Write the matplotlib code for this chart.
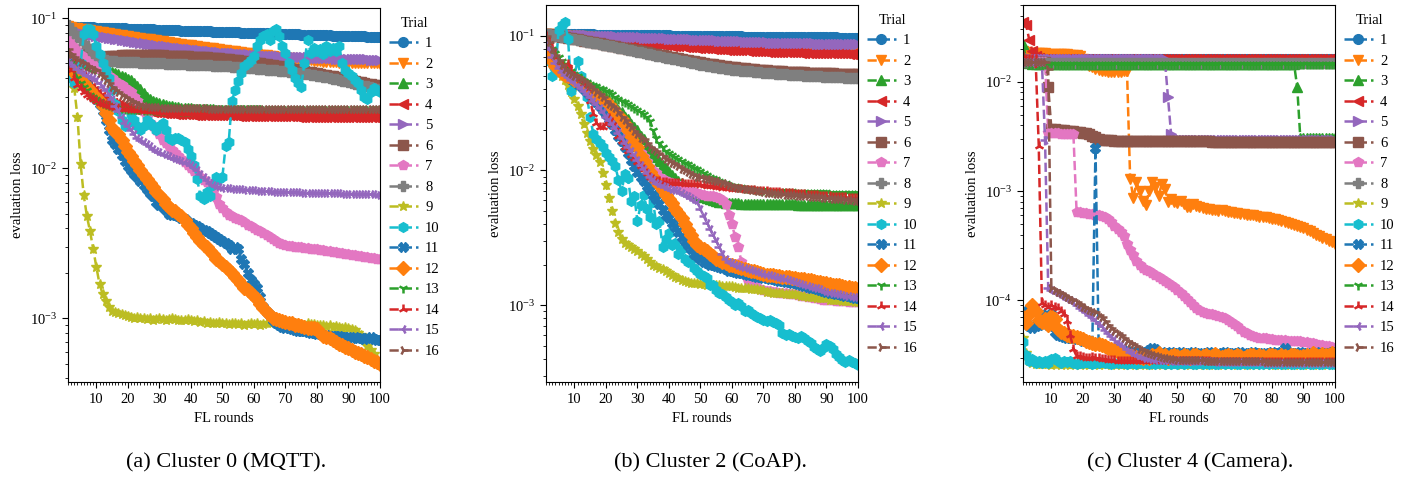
import numpy as np
import matplotlib
matplotlib.use("Agg")
import matplotlib.pyplot as plt
from matplotlib.ticker import MultipleLocator

plt.rcParams['font.family'] = ['Liberation Serif', 'DejaVu Serif']
plt.rcParams['mathtext.fontset'] = 'stix'
plt.rcParams['font.size'] = 10.5

# FL rounds and trial labels
rounds = np.arange(1, 101)
trials = [str(i) for i in range(1, 17)]

# ---------------- Cluster 0 (MQTT), values in units of 1e-4 ----------------
a_t1 = [880, 878, 877, 875, 874, 872, 871, 869, 868, 866,
        865, 863, 862, 860, 859, 857, 856, 854, 853, 851,
        850, 849, 847, 846, 844, 843, 841, 840, 839, 837,
        836, 834, 833, 832, 830, 829, 827, 826, 825, 823,
        822, 821, 819, 818, 817, 815, 814, 813, 811, 810,
        809, 807, 806, 805, 803, 802, 801, 799, 798, 797,
        796, 794, 793, 792, 791, 789, 788, 787, 786, 784,
        783, 782, 781, 779, 778, 777, 776, 775, 773, 772,
        771, 770, 769, 767, 766, 765, 764, 763, 762, 760,
        759, 758, 757, 756, 755, 754, 752, 751, 750, 749]
a_t2 = [880, 872, 865, 858, 851, 844, 838, 831, 825, 818,
        812, 806, 800, 794, 788, 782, 776, 770, 765, 759,
        753, 748, 742, 737, 731, 726, 721, 716, 711, 706,
        701, 696, 691, 686, 681, 676, 672, 667, 662, 658,
        653, 649, 645, 640, 636, 632, 628, 624, 620, 616,
        612, 608, 604, 600, 597, 593, 589, 586, 582, 579,
        575, 572, 568, 565, 562, 558, 555, 552, 549, 546,
        543, 540, 537, 534, 531, 529, 526, 523, 521, 518,
        516, 514, 512, 510, 509, 507, 506, 505, 504, 503,
        502, 502, 501, 501, 500, 500, 500, 499, 499, 498]
a_t3 = [650, 600, 570, 550, 530, 510, 500, 490, 480, 470,
        462, 456, 450, 443, 437, 430, 422, 414, 405, 396,
        385, 372, 355, 335, 315, 300, 290, 282, 276, 271,
        267, 264, 261, 259, 257, 255, 254, 253, 252, 251,
        250, 249, 249, 248, 248, 247, 247, 246, 246, 246,
        245, 245, 245, 244, 244, 244, 244, 243, 243, 243,
        243, 243, 242, 242, 242, 242, 242, 242, 241, 241,
        241, 241, 241, 241, 241, 240, 240, 240, 240, 240,
        240, 240, 240, 240, 240, 240, 239, 239, 239, 239,
        239, 239, 239, 239, 239, 239, 239, 239, 239, 239]
a_t4 = [600, 540, 490, 450, 420, 390, 365, 345, 328, 312,
        300, 290, 282, 276, 271, 266, 262, 258, 255, 252,
        250, 248, 246, 244, 242, 240, 239, 238, 237, 236,
        235, 234, 233, 232, 231, 231, 230, 230, 229, 229,
        228, 228, 228, 227, 227, 227, 226, 226, 226, 226,
        225, 225, 225, 225, 224, 224, 224, 224, 224, 223,
        223, 223, 223, 223, 223, 222, 222, 222, 222, 222,
        222, 222, 222, 221, 221, 221, 221, 221, 221, 221,
        221, 221, 221, 220, 220, 220, 220, 220, 220, 220,
        220, 220, 220, 220, 220, 220, 220, 220, 220, 220]
a_t5 = [850, 835, 820, 808, 798, 790, 783, 777, 771, 765,
        758, 752, 746, 740, 734, 728, 722, 716, 710, 704,
        699, 694, 689, 684, 679, 674, 669, 664, 660, 656,
        652, 648, 644, 640, 636, 632, 628, 625, 622, 619,
        616, 613, 610, 607, 604, 601, 598, 595, 592, 590,
        588, 586, 584, 582, 580, 578, 576, 574, 572, 570,
        568, 566, 564, 562, 560, 558, 557, 556, 555, 554,
        553, 552, 551, 550, 549, 548, 547, 546, 545, 544,
        543, 542, 541, 540, 539, 538, 537, 536, 535, 534,
        533, 533, 532, 532, 531, 531, 530, 530, 530, 530]
a_t6 = [680, 640, 610, 590, 575, 565, 558, 553, 550, 550,
        551, 553, 555, 557, 559, 561, 563, 565, 567, 568,
        569, 570, 570, 570, 570, 569, 568, 567, 566, 565,
        564, 563, 562, 561, 560, 559, 558, 557, 556, 555,
        554, 553, 551, 549, 547, 545, 543, 541, 539, 537,
        535, 532, 529, 526, 523, 520, 517, 514, 511, 508,
        505, 501, 497, 493, 489, 485, 481, 477, 473, 469,
        465, 461, 457, 453, 449, 445, 441, 437, 433, 429,
        425, 421, 417, 413, 409, 405, 401, 397, 393, 389,
        385, 381, 377, 373, 369, 365, 362, 359, 356, 353]
a_t7 = [720, 680, 640, 600, 570, 550, 530, 510, 490, 480,
        460, 450, 430, 410, 400, 380, 370, 360, 340, 330,
        320, 300, 280, 260, 240, 220, 200, 190, 180, 170,
        155, 148, 140, 133, 127, 120, 115, 110, 105, 100,
        96, 92, 88, 84, 81, 76, 70, 64, 58, 54,
        51, 49, 48, 47, 46, 45, 44, 42, 41, 40,
        39, 38, 37, 36, 35, 34, 33, 32, 31.5, 31,
        30.5, 30.3, 30.1, 30, 29.8, 29.6, 29.4, 29.2, 29, 28.8,
        28.6, 28.4, 28.2, 28, 27.8, 27.6, 27.4, 27.2, 27, 26.8,
        26.6, 26.4, 26.2, 26, 25.8, 25.6, 25.4, 25.2, 25, 24.8]
a_t8 = [900, 850, 800, 760, 720, 680, 650, 620, 590, 570,
        550, 540, 530, 520, 518, 516, 514, 512, 511, 510,
        509, 508, 507, 506, 505, 504, 503, 502, 501, 500,
        499, 498, 497, 496, 495, 494, 493, 492, 491, 490,
        489, 488, 487, 486, 485, 484, 483, 482, 481, 480,
        479, 478, 476, 474, 472, 470, 468, 466, 464, 462,
        460, 458, 456, 454, 452, 450, 448, 446, 444, 442,
        440, 437, 434, 431, 428, 425, 422, 419, 416, 413,
        410, 407, 403, 399, 395, 391, 387, 383, 379, 375,
        371, 367, 363, 359, 355, 351, 347, 343, 339, 335]
a_t9 = [520, 450, 340, 220, 107, 66, 48, 38, 29, 22,
        17, 14.5, 13, 12, 11.3, 11, 10.8, 10.7, 10.5, 10.4,
        10.3, 10.1, 10.2, 10, 10.1, 9.9, 10, 9.8, 9.9, 10,
        9.9, 9.8, 9.9, 10.1, 9.9, 9.8, 9.7, 9.8, 9.9, 9.7,
        9.6, 9.7, 9.5, 9.6, 9.4, 9.5, 9.3, 9.4, 9.5, 9.3,
        9.4, 9.2, 9.3, 9.4, 9.2, 9.3, 9.1, 9.2, 9.3, 9.2,
        9.3, 9.1, 9.2, 9.4, 9.3, 9.5, 9.4, 9.3, 9.5, 9.4,
        9.3, 9.2, 9.4, 9.3, 9.2, 9.1, 9.3, 9.2, 9.2, 9.1,
        9.0, 9.1, 8.9, 9.0, 8.8, 8.9, 8.8, 8.7, 8.8, 8.6,
        8.5, 8.4, 8.0, 7.8, 7.2, 6.6, 6.2, 5.8, 5.3, 4.9]
a_t10 = [450, 400, 370, 400, 500, 780, 850, 850, 780, 650,
         580, 500, 450, 400, 330, 270, 240, 210, 190, 200,
         230, 210, 190, 180, 190, 210, 200, 190, 180, 190,
         200, 180, 160, 155, 160, 160, 155, 150, 135, 120,
         105, 85, 65, 62, 70, 65, 78, 88, 85, 88,
         140, 150, 280, 330, 380, 430, 480, 500, 530, 560,
         650, 720, 760, 780, 720, 820, 840, 760, 650, 590,
         500, 450, 400, 370, 350, 500, 720, 590, 630, 600,
         620, 580, 650, 600, 630, 600, 650, 500, 450, 430,
         410, 390, 370, 330, 300, 290, 320, 345, 330, 320]
a_t11 = [500, 470, 450, 420, 400, 380, 360, 330, 310, 290,
         270, 240, 210, 180, 155, 145, 135, 123, 112, 103,
         97, 92, 87, 82, 78, 73, 69, 65, 60, 57,
         55, 53, 50, 49, 49, 48, 47, 46, 44, 43,
         42, 41, 40, 39, 38, 37, 36, 35, 34, 33,
         32, 31, 29, 30, 29, 25, 23, 20, 18, 17,
         16, 14, 12, 11, 10.5, 9.7, 9.3, 9.0, 8.8, 8.7,
         8.6, 8.5, 8.4, 8.3, 8.2, 8.2, 8.1, 8.0, 8.0, 7.9,
         7.9, 7.8, 7.8, 7.7, 7.7, 7.6, 7.6, 7.5, 7.5, 7.5,
         7.4, 7.5, 7.4, 7.4, 7.3, 7.4, 7.5, 7.3, 7.2, 7.2]
a_t12 = [480, 460, 440, 410, 390, 370, 350, 330, 310, 300,
         280, 260, 235, 210, 185, 175, 170, 155, 140, 128,
         120, 112, 105, 97, 90, 85, 80, 75, 70, 66,
         62, 58, 55, 53, 52, 50, 48, 45, 42, 40,
         37, 35, 33, 31, 30, 28, 27, 25, 24, 23,
         22, 21, 20, 19, 18, 17, 16, 15.5, 14.8, 14.2,
         13.5, 12.5, 11.7, 11, 10.5, 10.1, 9.9, 9.7, 9.6, 9.5,
         9.4, 9.3, 9.1, 9.0, 8.9, 8.8, 8.7, 8.7, 8.6, 8.5,
         8.0, 7.7, 7.5, 7.4, 7.2, 7.0, 6.8, 6.7, 6.5, 6.4,
         6.2, 6.0, 5.9, 5.8, 5.6, 5.5, 5.4, 5.2, 5.1, 5.0]
a_t13 = [550, 500, 450, 400, 370, 350, 330, 310, 300, 290,
         280, 272, 268, 262, 258, 255, 253, 251, 250, 249,
         248, 248, 247, 247, 246, 246, 245, 245, 245, 244,
         244, 244, 243, 243, 243, 243, 242, 242, 242, 242,
         242, 241, 241, 241, 241, 241, 241, 240, 240, 240,
         240, 240, 240, 240, 240, 240, 240, 240, 240, 240,
         240, 240, 239, 239, 239, 239, 239, 239, 239, 239,
         239, 239, 239, 239, 239, 239, 239, 239, 238, 238,
         238, 238, 238, 238, 238, 238, 238, 238, 238, 238,
         238, 238, 238, 238, 238, 238, 238, 238, 238, 238]
a_t14 = [500, 450, 400, 360, 340, 320, 310, 300, 290, 280,
         272, 266, 262, 258, 255, 253, 251, 250, 249, 248,
         246, 245, 244, 243, 242, 241, 240, 239, 238, 237,
         236, 236, 235, 235, 234, 234, 233, 233, 232, 232,
         231, 231, 231, 230, 230, 230, 230, 229, 229, 229,
         229, 229, 229, 228, 228, 228, 228, 228, 228, 228,
         228, 228, 228, 228, 227, 227, 227, 227, 227, 227,
         227, 227, 227, 227, 227, 227, 227, 227, 227, 226,
         226, 226, 226, 226, 226, 226, 226, 226, 226, 226,
         226, 226, 226, 226, 226, 226, 226, 226, 226, 226]
a_t15 = [520, 500, 480, 460, 440, 430, 420, 410, 400, 390,
         370, 350, 330, 310, 290, 260, 240, 220, 200, 190,
         180, 170, 160, 155, 150, 145, 140, 135, 130, 128,
         125, 122, 120, 118, 116, 114, 112, 110, 108, 105,
         102, 97, 92, 87, 83, 80, 78, 76, 75, 74,
         73.8, 73.5, 73.2, 73, 72.7, 72.5, 72.2, 72, 71.5, 71.2,
         71, 70.8, 70.6, 70.4, 70.2, 70, 70, 69.8, 69.6, 69.5,
         69.4, 69.3, 69.2, 69.1, 69, 69, 68.9, 68.8, 68.7, 68.6,
         68.5, 68.4, 68.3, 68.2, 68.1, 68, 68, 67.9, 67.8, 67.7,
         67.6, 67.5, 67.4, 67.3, 67.2, 67.1, 67, 67, 66.9, 66.8]
a_t16 = [620, 580, 550, 530, 510, 500, 480, 470, 460, 450,
         430, 410, 390, 370, 350, 330, 320, 310, 300, 290,
         280, 275, 270, 265, 260, 258, 257, 256, 255, 255,
         254, 254, 253, 253, 253, 252, 252, 252, 252, 251,
         251, 251, 251, 251, 251, 250, 250, 250, 250, 250,
         250, 250, 250, 250, 250, 250, 250, 250, 250, 250,
         250, 250, 250, 249, 249, 249, 249, 249, 249, 249,
         249, 249, 249, 249, 249, 249, 249, 249, 249, 249,
         249, 249, 249, 249, 249, 249, 249, 248, 248, 248,
         248, 248, 248, 248, 248, 248, 248, 248, 248, 248]

# ---------------- Cluster 2 (CoAP), values in units of 1e-4 ----------------
b_t1 = [1030, 1029, 1028, 1028, 1027, 1026, 1026, 1025, 1024, 1024,
        1023, 1022, 1022, 1021, 1020, 1020, 1019, 1018, 1018, 1017,
        1016, 1016, 1015, 1014, 1014, 1013, 1012, 1012, 1011, 1010,
        1010, 1009, 1008, 1007, 1007, 1006, 1005, 1004, 1004, 1003,
        1002, 1001, 1001, 1000, 999, 998, 998, 997, 996, 995,
        995, 994, 993, 992, 992, 991, 990, 989, 989, 988,
        987, 986, 986, 985, 984, 983, 983, 982, 981, 980,
        980, 979, 978, 978, 977, 976, 976, 975, 975, 974,
        974, 973, 973, 972, 972, 972, 971, 971, 971, 970,
        970, 970, 970, 969, 969, 969, 969, 968, 968, 968]
b_t2 = [1030, 1026, 1022, 1018, 1014, 1010, 1006, 1002, 998, 994,
        990, 986, 982, 978, 974, 970, 966, 962, 958, 954,
        950, 946, 942, 938, 934, 930, 926, 922, 918, 914,
        910, 906, 902, 898, 894, 890, 887, 884, 881, 878,
        875, 872, 869, 866, 863, 860, 857, 854, 851, 848,
        845, 842, 839, 836, 833, 830, 828, 826, 824, 822,
        820, 818, 816, 814, 812, 810, 808, 806, 804, 802,
        800, 799, 798, 797, 796, 795, 794, 793, 792, 791,
        790, 789, 788, 787, 786, 785, 784, 783, 782, 781,
        780, 780, 779, 779, 778, 778, 777, 777, 776, 776]
b_t3 = [950, 850, 750, 680, 620, 580, 550, 520, 500, 480,
        460, 450, 430, 420, 400, 390, 380, 360, 350, 340,
        320, 310, 300, 280, 270, 250, 240, 220, 210, 200,
        180, 170, 155, 145, 135, 125, 118, 110, 104, 98,
        93, 88, 84, 80, 77, 74, 71, 69, 67, 65,
        63, 62, 61, 60, 59, 58, 58, 57, 57, 57,
        56.8, 56.8, 56.7, 56.7, 56.6, 56.6, 56.5, 56.5, 56.4, 56.4,
        56.3, 56.3, 56.2, 56.2, 56.1, 56.1, 56, 56, 55.9, 55.9,
        55.8, 55.8, 55.7, 55.7, 55.6, 55.6, 55.5, 55.5, 55.4, 55.4,
        55.3, 55.3, 55.2, 55.2, 55.1, 55.1, 55, 55, 55, 55]
b_t4 = [1030, 1025, 1020, 1015, 1010, 1005, 1000, 995, 990, 985,
        980, 975, 970, 965, 960, 955, 950, 945, 940, 935,
        930, 925, 920, 915, 910, 905, 900, 896, 892, 888,
        884, 880, 876, 872, 868, 864, 860, 856, 852, 848,
        844, 840, 836, 832, 828, 825, 822, 819, 816, 813,
        810, 807, 804, 801, 798, 795, 792, 789, 786, 784,
        782, 780, 778, 776, 774, 772, 770, 768, 766, 764,
        762, 760, 758, 757, 756, 755, 754, 753, 752, 751,
        750, 749, 748, 747, 746, 745, 744, 743, 742, 741,
        740, 740, 739, 739, 738, 738, 737, 737, 736, 736]
b_t5 = [1030, 1028, 1026, 1024, 1022, 1020, 1018, 1016, 1014, 1012,
        1010, 1008, 1006, 1004, 1002, 1000, 998, 996, 994, 992,
        990, 988, 986, 984, 982, 980, 978, 976, 974, 972,
        970, 968, 966, 964, 962, 960, 958, 956, 954, 952,
        950, 948, 946, 944, 942, 940, 938, 936, 934, 932,
        930, 928, 926, 924, 922, 920, 918, 916, 914, 912,
        910, 908, 906, 904, 902, 900, 898, 896, 894, 892,
        890, 889, 888, 887, 886, 885, 884, 883, 882, 881,
        880, 879, 878, 877, 876, 875, 874, 873, 872, 871,
        870, 869, 868, 868, 867, 867, 866, 866, 865, 865]
b_t6 = [1030, 1020, 1010, 1001, 992, 983, 974, 965, 956, 947,
        938, 929, 920, 911, 902, 893, 884, 875, 866, 857,
        848, 840, 832, 824, 816, 808, 800, 792, 784, 776,
        768, 760, 752, 744, 736, 728, 720, 713, 706, 699,
        692, 685, 678, 671, 664, 657, 651, 645, 639, 633,
        627, 621, 616, 611, 606, 601, 597, 593, 589, 585,
        581, 578, 575, 572, 569, 566, 563, 560, 557, 555,
        553, 551, 549, 547, 545, 543, 541, 539, 537, 536,
        535, 534, 533, 532, 531, 530, 529, 528, 527, 526,
        525, 524, 523, 522, 521, 521, 520, 520, 519, 519]
b_t7 = [900, 800, 700, 630, 580, 550, 520, 500, 480, 460,
        440, 420, 400, 380, 360, 340, 320, 300, 280, 270,
        250, 240, 220, 210, 200, 190, 180, 170, 160, 150,
        135, 125, 115, 105, 99, 95, 90, 87, 84, 82,
        80, 79, 78, 76, 74, 72, 70, 69, 68, 67,
        66, 65, 65, 64, 63, 62, 60, 56, 47, 40,
        32, 27, 21, 17, 15, 14.5, 14, 13.5, 13.2, 13,
        12.8, 12.7, 12.6, 12.5, 12.4, 12.3, 12.2, 12.1, 12.0, 12.0,
        11.8, 11.7, 11.6, 11.5, 11.4, 11.3, 11.2, 11.1, 11.0, 11.0,
        10.9, 10.9, 10.8, 10.8, 10.7, 10.7, 10.6, 10.6, 10.5, 10.5]
b_t8 = [1030, 1020, 1010, 1000, 990, 980, 970, 960, 950, 940,
        931, 922, 913, 904, 895, 886, 877, 868, 859, 850,
        841, 832, 823, 814, 805, 796, 787, 778, 769, 760,
        752, 744, 736, 728, 720, 712, 704, 696, 688, 680,
        673, 666, 659, 652, 645, 638, 631, 624, 617, 610,
        605, 600, 595, 590, 585, 580, 575, 570, 565, 560,
        557, 554, 551, 548, 545, 542, 539, 536, 533, 530,
        528, 526, 524, 522, 520, 518, 516, 514, 512, 510,
        508, 507, 505, 504, 502, 501, 499, 498, 496, 495,
        494, 493, 492, 491, 490, 489, 488, 487, 486, 485]
b_t9 = [800, 700, 620, 570, 530, 500, 470, 430, 380, 340,
        300, 260, 220, 190, 165, 145, 130, 115, 95, 78,
        62, 50, 41, 35, 31, 29, 28, 27, 26, 25,
        24, 23, 22, 21, 20, 19.5, 19, 18.5, 18, 17.2,
        16.8, 16.3, 15.8, 15.4, 15, 14.8, 14.7, 14.6, 14.5, 14.4,
        14.3, 14.2, 14.3, 14.1, 14.0, 14.1, 13.9, 13.8, 13.9, 13.8,
        13.6, 13.5, 13.4, 13.3, 13.3, 13.2, 13.1, 13.1, 13.0, 13.0,
        12.6, 12.5, 12.4, 12.4, 12.3, 12.2, 12.1, 12.1, 12.0, 12.0,
        11.8, 11.7, 11.6, 11.5, 11.5, 11.4, 11.3, 11.3, 11.2, 11.2,
        11.0, 11.0, 10.9, 10.9, 10.8, 10.8, 10.7, 10.7, 10.6, 10.6]
b_t10 = [800, 650, 500, 550, 1100, 1200, 1260, 950, 390, 500,
         650, 500, 450, 350, 250, 186, 170, 160, 148, 135,
         125, 118, 108, 85, 70, 94, 88, 59, 65, 42,
         55, 66, 52, 45, 58, 40, 42, 27, 31, 34,
         28, 29, 24, 26, 22, 21, 22, 19, 18, 17,
         16.5, 16, 14, 14.2, 13, 12.3, 12, 11.5, 11, 10.5,
         10.1, 10.4, 9.8, 9.0, 9.2, 8.7, 8.4, 8.2, 8.0, 7.8,
         7.6, 7.7, 7.5, 7.4, 7.1, 6.2, 6.0, 6.1, 5.9, 5.8,
         5.7, 5.9, 5.7, 5.4, 5.2, 4.9, 4.7, 4.6, 4.8, 5.1,
         5.0, 4.7, 4.3, 4.1, 3.9, 3.8, 3.9, 3.8, 3.7, 3.6]
b_t11 = [850, 750, 680, 620, 580, 550, 520, 500, 480, 460,
         440, 420, 400, 380, 360, 340, 320, 300, 280, 260,
         240, 220, 200, 180, 165, 150, 135, 120, 108, 98,
         90, 83, 77, 72, 66, 61, 56, 51, 47, 44,
         41, 38, 35, 32, 30, 28, 26, 24, 23, 22,
         21, 20.5, 20, 19.7, 19.4, 19.1, 18.8, 18.5, 18, 17.8,
         17.5, 17.3, 17.2, 17, 16.8, 16.6, 16.5, 16.3, 16.1, 16,
         15.8, 15.6, 15.5, 15.3, 15.2, 15, 14.9, 14.8, 14.6, 14.5,
         14.3, 14.1, 13.9, 13.7, 13.5, 13.3, 13.1, 12.9, 12.7, 12.5,
         12.4, 12.3, 12.1, 12, 11.8, 11.7, 11.6, 11.4, 11.3, 11.2]
b_t12 = [800, 720, 650, 600, 560, 530, 510, 500, 490, 470,
         460, 450, 440, 420, 400, 380, 370, 350, 340, 330,
         310, 290, 270, 255, 240, 220, 200, 180, 163, 148,
         128, 118, 108, 98, 90, 84, 78, 72, 66, 61,
         57, 52, 48, 44, 40, 36, 33, 30, 28, 27,
         26, 25, 24, 23, 22, 21.5, 21, 20.5, 20, 19.7,
         19.4, 19.1, 18.8, 18.5, 18.2, 18, 17.8, 17.5, 17.2, 17,
         16.8, 16.7, 16.6, 16.5, 16.4, 16.3, 16.2, 16.1, 16, 15.8,
         15.7, 15.6, 15.5, 15.4, 15.3, 15.1, 14.9, 14.8, 14.6, 14.5,
         14.4, 14.2, 14.1, 14, 13.9, 13.7, 13.6, 13.5, 13.3, 13.2]
b_t13 = [950, 870, 800, 740, 690, 650, 620, 580, 550, 520,
         500, 480, 460, 450, 440, 430, 420, 410, 400, 390,
         380, 370, 350, 340, 330, 320, 310, 300, 290, 280,
         270, 260, 250, 233, 200, 175, 160, 148, 140, 134,
         129, 125, 121, 117, 114, 111, 108, 105, 102, 99,
         96, 93, 90, 88, 86, 84, 82, 80, 78, 77,
         76, 75.5, 75, 74.5, 74, 73.5, 73, 72.5, 72, 71.5,
         71, 70.8, 70.6, 70.4, 70.2, 70, 69.9, 69.8, 69.7, 69.6,
         69.5, 69.4, 69.3, 69.2, 69.1, 69, 68.9, 68.8, 68.7, 68.6,
         68.5, 68.4, 68.3, 68.2, 68.1, 68, 68, 67.9, 67.9, 67.8]
b_t14 = [1000, 900, 800, 700, 630, 600, 580, 620, 550, 500,
         480, 460, 440, 400, 330, 260, 225, 210, 210, 220,
         245, 230, 210, 180, 165, 150, 139, 130, 124, 115,
         108, 102, 95, 89, 86, 84, 83, 82, 82, 81,
         81, 80.7, 80.4, 80.1, 79.8, 79.5, 79.2, 78.9, 78.6, 78.3,
         77.5, 77, 76.5, 76, 75.5, 75, 74.5, 74, 73.5, 73,
         72.8, 72.6, 72.3, 72, 71.7, 71.4, 71.1, 70.8, 70.5, 70.2,
         69.9, 69.6, 69.3, 69, 68.7, 68.4, 68.1, 67.8, 67.5, 67.2,
         66.9, 66.6, 66.3, 66, 65.7, 65.4, 65.1, 64.8, 64.5, 64.2,
         64, 63.8, 63.6, 63.4, 63.2, 63, 62.8, 62.6, 62.4, 62.2]
b_t15 = [900, 800, 700, 630, 580, 540, 510, 490, 470, 450,
         430, 410, 390, 370, 350, 330, 310, 290, 270, 250,
         235, 220, 205, 190, 175, 160, 150, 140, 130, 120,
         110, 102, 95, 90, 85, 81, 79, 77, 75, 73,
         72, 71, 70, 68, 66, 64, 62, 60, 58, 52,
         46, 41, 37, 33, 30, 27, 24, 22, 21, 20.5,
         20, 19.6, 19.2, 18.9, 18.6, 18.3, 18, 17.7, 17.4, 17,
         16.8, 16.6, 16.4, 16.2, 16, 15.8, 15.6, 15.4, 15.1, 14.8,
         14.5, 14.3, 14.1, 13.9, 13.7, 13.5, 13.3, 13.1, 12.8, 12.5,
         12.4, 12.3, 12.1, 12, 11.8, 11.7, 11.6, 11.5, 11.4, 11.3]
b_t16 = [1000, 900, 800, 720, 660, 610, 570, 540, 520, 500,
         490, 480, 460, 440, 420, 400, 380, 370, 350, 330,
         310, 300, 290, 270, 250, 235, 220, 210, 195, 185,
         175, 170, 160, 150, 145, 140, 133, 127, 121, 117,
         113, 111, 107, 103, 100, 97, 94, 92, 90, 89,
         88, 87, 86, 85, 84, 83, 81, 80, 78, 76,
         75, 74.4, 73.8, 73.2, 72.6, 72, 71.4, 70.8, 70.2, 69,
         68, 67.7, 67.4, 67.1, 66.8, 66.5, 66.2, 65.9, 65.6, 65.3,
         65, 64.7, 64.4, 64.1, 63.8, 63.5, 63.2, 62.9, 62.6, 62.3,
         62, 61.7, 61.4, 61.1, 60.8, 60.5, 60.2, 59.9, 59.6, 59.3]

# ---------------- Cluster 4 (Camera), values in units of 1e-6 ----------------
c_t1 = [17000, 16800, 16500, 16400, 16300, 16300, 16200, 16200, 16200, 16100,
        16100, 16100, 16100, 16100, 16100, 16100, 16100, 16100, 16100, 16100,
        16100, 16100, 16100, 16100, 16100, 16100, 16100, 16100, 16100, 16100,
        16100, 16100, 16100, 16100, 16100, 16050, 16050, 16050, 16050, 16050,
        16050, 16050, 16050, 16050, 16050, 16050, 16050, 16050, 16050, 16050,
        16050, 16050, 16050, 16050, 16050, 16050, 16050, 16050, 16050, 16050,
        16000, 16000, 16000, 16000, 16000, 16000, 16000, 16000, 16000, 16000,
        16000, 16000, 16000, 16000, 16000, 16000, 16000, 16000, 16000, 16000,
        16000, 16000, 16000, 16000, 16000, 16000, 16000, 16000, 16000, 16000,
        16000, 16000, 16000, 16000, 16000, 16000, 16000, 16000, 16000, 16000]
c_t2 = [19000, 18500, 18400, 18300, 18200, 18200, 18100, 18100, 18000, 18000,
        18000, 17900, 17900, 17800, 17800, 17700, 17600, 17400, 17000, 16000,
        15000, 14000, 13500, 13000, 12700, 12500, 12400, 12300, 12300, 12300,
        12300, 12300, 12400, 12500, 1300, 860, 1200, 1000, 820, 750,
        1000, 1200, 1100, 900, 1150, 1050, 800, 850, 800, 780,
        820, 760, 710, 720, 760, 730, 720, 700, 690, 680,
        675, 670, 660, 665, 655, 650, 640, 635, 630, 620,
        615, 610, 605, 600, 595, 585, 580, 575, 570, 560,
        550, 540, 530, 520, 510, 500, 490, 480, 465, 455,
        440, 430, 415, 400, 390, 375, 365, 350, 340, 330]
c_t3 = [22000, 16000, 14700, 14600, 14600, 14600, 14600, 14600, 14600, 14600,
        14600, 14600, 14600, 14600, 14600, 14600, 14600, 14600, 14600, 14600,
        14600, 14600, 14600, 14600, 14600, 14600, 14600, 14600, 14600, 14600,
        14600, 14600, 14600, 14600, 14600, 14600, 14600, 14600, 14600, 14600,
        14550, 14550, 14550, 14550, 14550, 14550, 14550, 14550, 14550, 14550,
        14550, 14550, 14550, 14550, 14550, 14550, 14550, 14550, 14550, 14550,
        14550, 14550, 14550, 14550, 14550, 14550, 14550, 14550, 14550, 14550,
        14500, 14500, 14500, 14500, 14500, 14500, 14500, 14500, 14500, 14500,
        14500, 14500, 14500, 14500, 14500, 14500, 14500, 9000, 3050, 3050,
        3050, 3050, 3050, 3050, 3050, 3050, 3050, 3050, 3050, 3050]
c_t4 = [35000, 33000, 24000, 19000, 17000, 16300, 16200, 16200, 16100, 16100,
        16100, 16100, 16100, 16100, 16100, 16100, 16100, 16100, 16100, 16100,
        16100, 16100, 16100, 16100, 16100, 16100, 16100, 16100, 16100, 16100,
        16100, 16100, 16100, 16100, 16100, 16100, 16100, 16100, 16100, 16100,
        16050, 16050, 16050, 16050, 16050, 16050, 16050, 16050, 16050, 16050,
        16050, 16050, 16050, 16050, 16050, 16050, 16050, 16050, 16050, 16050,
        16050, 16050, 16050, 16050, 16050, 16050, 16050, 16050, 16050, 16050,
        16000, 16000, 16000, 16000, 16000, 16000, 16000, 16000, 16000, 16000,
        16000, 16000, 16000, 16000, 16000, 16000, 16000, 16000, 16000, 16000,
        16000, 16000, 16000, 16000, 16000, 16000, 16000, 16000, 16000, 16000]
c_t5 = [17000, 16500, 16300, 16200, 16200, 16100, 16100, 16100, 16100, 16100,
        16100, 16100, 16100, 16100, 16100, 16100, 16100, 16100, 16100, 16100,
        16100, 16100, 16100, 16100, 16100, 16100, 16100, 16100, 16100, 16100,
        16050, 16050, 16050, 16050, 16050, 16050, 16050, 16050, 16050, 16050,
        16050, 16050, 16050, 16050, 16050, 16050, 7200, 3300, 2960, 2960,
        2960, 2960, 2960, 2960, 2960, 2960, 2960, 2960, 2960, 2960,
        2960, 2960, 2960, 2960, 2960, 2960, 2960, 2960, 2960, 2960,
        2960, 2960, 2960, 2960, 2960, 2960, 2960, 2960, 2960, 2960,
        2960, 2960, 2960, 2960, 2960, 2960, 2960, 2960, 2960, 2960,
        2960, 2960, 2960, 2960, 2960, 2960, 2960, 2960, 2960, 2960]
c_t6 = [15500, 15000, 15000, 15000, 15000, 15000, 15000, 15000, 9000, 3700,
        3680, 3650, 3620, 3600, 3570, 3540, 3510, 3480, 3450, 3420,
        3380, 3320, 3220, 3100, 3000, 2930, 2910, 2900, 2900, 2890,
        2890, 2880, 2880, 2880, 2870, 2870, 2870, 2870, 2860, 2860,
        2860, 2860, 2860, 2850, 2850, 2850, 2850, 2850, 2850, 2850,
        2840, 2840, 2840, 2840, 2840, 2840, 2840, 2840, 2840, 2840,
        2830, 2830, 2830, 2830, 2830, 2830, 2830, 2830, 2830, 2830,
        2830, 2830, 2830, 2830, 2830, 2820, 2820, 2820, 2820, 2820,
        2820, 2820, 2820, 2820, 2820, 2820, 2820, 2820, 2820, 2820,
        2820, 2820, 2820, 2820, 2820, 2820, 2820, 2820, 2820, 2820]
c_t7 = [16000, 15000, 15000, 15000, 15000, 15000, 15000, 15000, 3400, 3380,
        3370, 3360, 3350, 3340, 3330, 3320, 3300, 650, 640, 630,
        625, 620, 615, 605, 600, 590, 575, 550, 520, 480,
        450, 420, 390, 330, 290, 260, 230, 210, 200, 190,
        185, 178, 170, 164, 158, 152, 146, 138, 132, 125,
        118, 110, 103, 97, 90, 85, 82, 79, 77, 76,
        75, 74, 72, 71, 69, 67, 64, 61, 58, 55,
        52, 50, 48, 47, 46, 45.5, 45, 45, 44.5, 44,
        43.8, 43.6, 43.4, 43.2, 43, 42.8, 42.6, 42.4, 42.2, 42,
        41.5, 41, 40.5, 40, 39.5, 39, 38.5, 38, 37.5, 37]
c_t8 = [15500, 15000, 15000, 14900, 14900, 14900, 14900, 14900, 14900, 14900,
        14900, 14900, 14900, 14900, 14900, 14900, 14900, 14900, 14900, 14900,
        14900, 14900, 14900, 14900, 14900, 14900, 14900, 14900, 14900, 14900,
        14850, 14850, 14850, 14850, 14850, 14850, 14850, 14850, 14850, 14850,
        14850, 14850, 14850, 14850, 14850, 14850, 14850, 14850, 14850, 14850,
        14850, 14850, 14850, 14850, 14850, 14850, 14850, 14850, 14850, 14850,
        14800, 14800, 14800, 14800, 14800, 14800, 14800, 14800, 14800, 14800,
        14800, 14800, 14800, 14800, 14800, 14800, 14800, 14800, 14800, 14800,
        14800, 14800, 14800, 14800, 14800, 14800, 14800, 14800, 14800, 14800,
        14800, 14800, 14800, 14800, 14800, 14800, 14800, 14800, 14800, 14800]
c_t9 = [45, 33, 28, 27, 26.5, 26, 26, 26.2, 26, 25.8,
        26, 26.2, 25.9, 26, 26.1, 25.8, 26, 26.2, 25.9, 26,
        26, 25.8, 26.1, 26, 25.9, 26, 26.2, 26, 25.8, 26,
        26.1, 25.9, 26, 26, 25.8, 26, 26.1, 25.9, 26, 26,
        25.8, 26, 26.1, 26, 25.9, 26, 25.8, 26, 26.1, 26,
        25.9, 26, 26, 25.8, 26, 26.1, 25.9, 26, 26, 25.8,
        26, 26.1, 25.9, 26, 26, 25.8, 26, 26.1, 25.9, 26,
        26, 25.8, 26, 26.1, 25.9, 26, 26, 25.8, 26, 26.1,
        25.9, 26, 26, 25.8, 26, 26.1, 25.9, 26, 26, 25.8,
        26, 26.1, 25.9, 26, 26, 25.8, 26, 26.1, 25.9, 26]
c_t10 = [42, 32, 28, 29, 27, 28, 27, 28, 27, 29,
         30, 28, 27, 28, 27.5, 28, 27, 26.5, 27, 27,
         27.5, 27, 26.5, 27, 26.8, 27.2, 26.6, 27, 26.5, 26.8,
         27, 26.6, 26.9, 26.5, 27.1, 26.7, 26.5, 26.9, 26.6, 27,
         26.5, 26.8, 26.4, 26.9, 26.6, 26.5, 27, 26.4, 26.7, 26.5,
         26.8, 26.4, 26.6, 26.9, 26.5, 26.4, 26.8, 26.5, 26.6, 26.4,
         26.7, 26.5, 26.4, 26.8, 26.5, 26.6, 26.4, 26.7, 26.5, 26.4,
         26.8, 26.5, 26.6, 26.4, 26.7, 26.5, 26.4, 26.6, 26.5, 26.8,
         26.4, 26.6, 26.5, 26.4, 26.7, 26.5, 26.4, 26.6, 26.5, 26.4,
         26.7, 26.5, 26.4, 26.6, 26.5, 26.4, 26.6, 26.5, 26.4, 26.5]
c_t11 = [80, 62, 58, 56, 58, 60, 75, 62, 60, 75,
         52, 48, 47, 46, 45.5, 45, 45, 44, 44, 43,
         43, 42, 41, 2500, 40, 39, 38, 37, 36, 36,
         35, 35, 34.5, 34.5, 34, 34, 34, 34, 33.5, 34,
         35, 37, 36, 33, 33.5, 33, 33, 33.5, 33, 33,
         33.5, 33, 32.5, 33, 33.5, 33, 32.5, 33, 33, 33.5,
         33, 32.5, 33, 33, 33.5, 33, 32.5, 33, 33, 33.5,
         33, 32.5, 33, 33.5, 33, 33, 32.5, 33, 33, 33.5,
         33, 33, 34, 37, 34, 33, 32.5, 33, 33.5, 33,
         33, 32.5, 33, 33.5, 33, 33, 32.5, 33, 33.5, 33]
c_t12 = [70, 62, 75, 90, 80, 66, 63, 68, 60, 72,
         68, 55, 52, 50, 48, 47, 47, 46, 45, 44,
         43, 42, 41, 40, 40, 39, 38, 37, 36, 35,
         34, 33, 32, 31.5, 31, 31, 30.5, 30.5, 30, 31,
         30, 32, 31, 33, 31, 32, 30, 31, 32, 31,
         30.5, 32, 31, 30, 31.5, 32, 30.5, 31, 32, 30.5,
         31, 32.5, 31, 30.5, 31, 32, 31, 30.5, 32, 31,
         30, 31, 32, 31.5, 30.5, 32, 31, 30, 31.5, 32,
         31, 30.5, 32, 31, 30.5, 31.5, 32, 31, 30.5, 31,
         32, 31, 33, 32, 31, 32.5, 31.5, 32, 33, 32]
c_t13 = [20000, 15000, 14500, 14500, 14500, 14500, 14500, 14500, 14500, 14500,
         14500, 14500, 14500, 14500, 14500, 14500, 14500, 14500, 14500, 14500,
         14500, 14500, 14500, 14500, 14500, 14500, 14500, 14500, 14500, 14500,
         14500, 14500, 14500, 14500, 14500, 14500, 14500, 14500, 14500, 14500,
         14500, 14500, 14500, 14500, 14500, 14500, 14500, 14500, 14500, 14500,
         14500, 14500, 14500, 14500, 14500, 14500, 14500, 14500, 14500, 14500,
         14500, 14500, 14500, 14500, 14500, 14500, 14500, 14500, 14500, 14500,
         14500, 14500, 14500, 14500, 14500, 14500, 14500, 14500, 14500, 14500,
         14500, 14500, 14500, 14500, 14500, 14500, 14500, 14500, 14500, 14500,
         14500, 14500, 14500, 14500, 14500, 14500, 14500, 14500, 14500, 14500]
c_t14 = [17000, 16000, 16000, 16000, 16000, 2600, 95, 90, 88, 90,
         88, 85, 80, 76, 65, 48, 36, 31, 31, 30.5,
         30, 30, 30.5, 30, 29.5, 29, 29, 28.5, 28.5, 28.5,
         28, 28, 28, 28, 28, 28, 27.9, 27.9, 27.9, 27.9,
         27.8, 27.8, 27.8, 27.8, 27.8, 27.8, 27.8, 27.8, 27.8, 27.8,
         27.7, 27.7, 27.7, 27.7, 27.7, 27.7, 27.7, 27.7, 27.7, 27.7,
         27.6, 27.6, 27.6, 27.6, 27.6, 27.6, 27.6, 27.6, 27.6, 27.6,
         27.5, 27.5, 27.5, 27.5, 27.5, 27.5, 27.5, 27.5, 27.5, 27.5,
         27.5, 27.5, 27.5, 27.5, 27.5, 27.5, 27.5, 27.5, 27.5, 27.5,
         27.5, 27.5, 27.5, 27.5, 27.5, 27.5, 27.5, 27.5, 27.5, 27.5]
c_t15 = [15000, 15000, 15000, 15000, 15000, 15000, 15000, 2900, 130, 125,
         120, 116, 112, 108, 104, 100, 96, 90, 86, 82,
         78, 74, 70, 66, 62, 58, 54, 50, 47, 44,
         42, 40, 38, 36, 34, 33, 32, 31, 30, 29.5,
         29, 29, 28.8, 28.6, 28.5, 28.4, 28.3, 28.2, 28.1, 28,
         28, 28, 27.9, 27.9, 27.9, 27.8, 27.8, 27.8, 27.7, 27.7,
         27.7, 27.6, 27.6, 27.6, 27.5, 27.5, 27.5, 27.4, 27.4, 27.4,
         27.3, 27.3, 27.3, 27.2, 27.2, 27.2, 27.1, 27.1, 27.1, 27.1,
         27, 27, 27, 27, 27, 27, 27, 27, 27, 27,
         27, 27, 27, 27, 27, 27, 27, 27, 27, 27]
c_t16 = [15000, 15000, 15000, 15000, 15000, 15000, 15000, 15000, 13000, 130,
         125, 120, 116, 112, 108, 104, 100, 96, 92, 88,
         85, 82, 80, 78, 74, 70, 65, 60, 56, 53,
         50, 48, 45, 43, 41, 40, 38, 36, 35, 34,
         33, 32.5, 32, 31, 30.5, 30, 29.5, 29, 29, 28.5,
         28.5, 28.5, 28.4, 28.4, 28.4, 28.3, 28.3, 28.3, 28.2, 28.2,
         28.2, 28.1, 28.1, 28.1, 28, 28, 28, 27.9, 27.9, 27.9,
         27.8, 27.8, 27.8, 27.7, 27.7, 27.7, 27.7, 27.6, 27.6, 27.6,
         27.6, 27.6, 27.5, 27.5, 27.5, 27.5, 27.5, 27.5, 27.5, 27.5,
         27.5, 27.5, 27.5, 27.5, 27.5, 27.5, 27.5, 27.5, 27.5, 27.5]

cluster0 = [a_t1, a_t2, a_t3, a_t4, a_t5, a_t6, a_t7, a_t8,
            a_t9, a_t10, a_t11, a_t12, a_t13, a_t14, a_t15, a_t16]
cluster2 = [b_t1, b_t2, b_t3, b_t4, b_t5, b_t6, b_t7, b_t8,
            b_t9, b_t10, b_t11, b_t12, b_t13, b_t14, b_t15, b_t16]
cluster4 = [c_t1, c_t2, c_t3, c_t4, c_t5, c_t6, c_t7, c_t8,
            c_t9, c_t10, c_t11, c_t12, c_t13, c_t14, c_t15, c_t16]

captions = ["(a) Cluster 0 (MQTT).", "(b) Cluster 2 (CoAP).", "(c) Cluster 4 (Camera)."]

markers = ['o', 'v', '^', '<', '>', 's', 'p', 'P', '*', 'h', 'X', 'D', '1', '2', '3', '4']
colors = plt.rcParams['axes.prop_cycle'].by_key()['color']

W, H = 1407, 482
fig = plt.figure(figsize=(W / 100, H / 100), dpi=100)

# (data, unit, axes left px, axes top px, caption centre px)
panels = [
    (cluster0, 1e-4, 68, 8, 226),
    (cluster2, 1e-4, 546, 5, 711),
    (cluster4, 1e-6, 1023, 5, 1190),
]
bottom_px = 382
width_px = 312

for k, (series, unit, left, top, cap_x) in enumerate(panels):
    ax = fig.add_axes([left / W, (H - bottom_px) / H, width_px / W, (bottom_px - top) / H])
    for i, vals in enumerate(series):
        y = np.array(vals, dtype=float) * unit
        mew = 1.8 if markers[i] in ('1', '2', '3', '4') else 1.0
        ax.plot(rounds, y, ls='--', lw=1.8, marker=markers[i], ms=7, mew=mew,
                color=colors[i % 10], label=trials[i])
    ax.set_yscale('log')
    ax.set_xlim(1, 100)
    ax.xaxis.set_major_locator(MultipleLocator(10))
    ax.xaxis.set_minor_locator(MultipleLocator(1))
    ax.tick_params(which='major', length=4.5)
    ax.tick_params(which='minor', length=2.5)
    ax.set_xlabel("FL rounds")
    ax.set_ylabel("evaluation loss")
    ax.legend(title="Trial", loc='upper left', bbox_to_anchor=(1.0, 1.0),
              frameon=False, borderaxespad=0.2, handletextpad=0.5,
              fontsize=10.5, title_fontsize=10.5)
    fig.text(cap_x / W, 1 - 463 / H, captions[k], ha='center', va='center', fontsize=16)

fig.savefig("out.png", dpi=100)
